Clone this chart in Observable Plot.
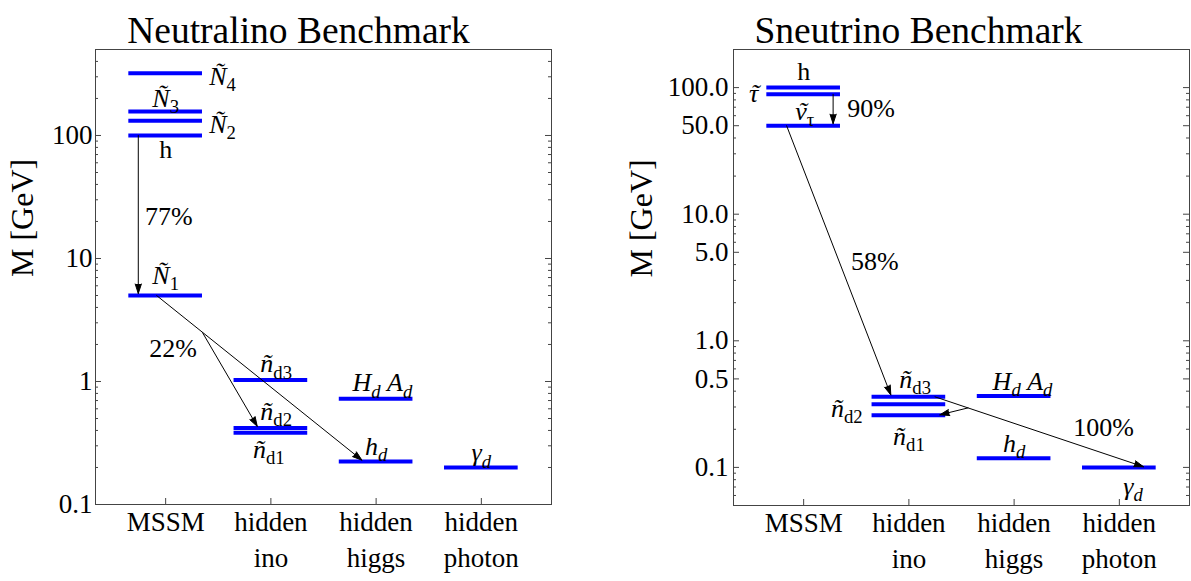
<!DOCTYPE html>
<html><head><meta charset="utf-8">
<script src="https://cdn.jsdelivr.net/npm/d3@7"></script>
<script src="https://cdn.jsdelivr.net/npm/@observablehq/plot@0.6"></script>
<style>
body{margin:0;background:#fff}
#wrap{display:flex;width:1191px;height:581px}
#wrap svg, #wrap svg text, #wrap svg tspan{font-family:"Liberation Serif","Times New Roman",serif !important}
</style>
</head><body><div id="wrap"></div>
<script>
// ---------- shared ----------
const categories = ["MSSM", "hidden\nino", "hidden\nhiggs", "hidden\nphoton"];
const categoryPos = [1, 2, 3, 4];

// ---------- Neutralino benchmark ----------
const nTitle = "Neutralino Benchmark";
const nYTicks = [0.1, 1, 10, 100];
const nYTickLabels = ["0.1", "1", "10", "100"];
const nMinor = [0.2,0.3,0.4,0.5,0.6,0.7,0.8,0.9, 2,3,4,5,6,7,8,9, 20,30,40,50,60,70,80,90, 200,300,400];
const nLevelCat  = [1, 1, 1, 1, 1, 2, 2, 2, 3, 3, 4];
const nLevelMass = [320, 157, 132, 100, 5.0, 1.03, 0.418, 0.383, 0.723, 0.224, 0.2];
const nLabelText = ["*Ñ*_{4}", "*Ñ*_{3}", "*Ñ*_{2}", "h", "*Ñ*_{1}", "*ñ*_{d3}", "*ñ*_{d2}", "*ñ*_{d1}", "*H*_{*d*} *A*_{*d*}", "*h*_{*d*}", "*γ*_{*d*}"];
const nLabelX = [1.54, 1.0, 1.54, 1.0, 1.0, 2.05, 2.05, 1.98, 3.06, 3.0, 4.0];
const nLabelY = [302, 201, 122, 76, 7.3, 1.385, 0.57, 0.278, 0.97, 0.296, 0.262];
const nPctText = ["77%", "22%"];
const nPctX = [1.03, 1.07];
const nPctY = [22, 1.85];
const nArrowX1 = [0.74, 0.914, 1.35];
const nArrowY1 = [100, 5, 2.5];
const nArrowX2 = [0.74, 2.88, 1.88];
const nArrowY2 = [5, 0.224, 0.418];

// ---------- Sneutrino benchmark ----------
const sTitle = "Sneutrino Benchmark";
const sYTicks = [0.1, 0.5, 1, 5, 10, 50, 100];
const sYTickLabels = ["0.1", "0.5", "1.0", "5.0", "10.0", "50.0", "100.0"];
const sMinor = [0.06,0.07,0.08,0.09, 0.2,0.3,0.4,0.6,0.7,0.8,0.9, 2,3,4,6,7,8,9, 20,30,40,60,70,80,90];
const sLevelCat  = [1, 1, 1, 2, 2, 2, 3, 3, 4];
const sLevelMass = [100, 88.5, 50, 0.361, 0.315, 0.258, 0.366, 0.118, 0.1];
const sLabelText = ["h", "*τ~*", "*ν~*_{τ}", "*ñ*_{d3}", "*ñ*_{d2}", "*ñ*_{d1}", "*H*_{*d*} *A*_{*d*}", "*h*_{*d*}", "*γ*_{*d*}"];
const sLabelX = [1.0, 0.53, 1.01, 2.06, 1.41, 2.0, 3.08, 3.0, 4.13];
const sLabelY = [133, 89.7, 65, 0.496, 0.293, 0.175, 0.475, 0.155, 0.0705];
const sPctText = ["90%", "58%", "100%"];
const sPctX = [1.64, 1.676, 3.85];
const sPctY = [68, 4.2, 0.207];
const sArrowX1 = [1.28, 0.838, 2.248, 2.562];
const sArrowY1 = [88.5, 50, 0.361, 0.295];
const sArrowX2 = [1.28, 1.835, 4.248, 2.276];
const sArrowY2 = [50, 0.361, 0.1, 0.258];

const FONT = "Liberation Serif";
const LABEL_FS = 26;
const NS = "http://www.w3.org/2000/svg";

function panel(o) {
  const H = 581, marginTop = 49;
  const fw = o.width - o.marginLeft - o.marginRight;
  const fh = H - marginTop - o.marginBottom;
  const levels = o.levelCat.map((c, i) => ({c, m: o.levelMass[i]}));
  const labels = o.labelText.map((t, i) => ({t, x: o.labelX[i], y: o.labelY[i]}));
  const pcts = o.pctText.map((t, i) => ({t, x: o.pctX[i], y: o.pctY[i]}));
  const arrows = o.ax1.map((x1, i) => ({x1, y1: o.ay1[i], x2: o.ax2[i], y2: o.ay2[i]}));
  const ticks = o.yTicks.map((v, i) => ({v, s: o.yTickLabels[i]}));
  return Plot.plot({
    width: o.width, height: H, marginTop, marginLeft: o.marginLeft, marginRight: o.marginRight, marginBottom: o.marginBottom,
    style: {background: "white", overflow: "visible", color: "black"},
    x: {domain: [1/3, 14/3], axis: null},
    y: {type: "log", domain: o.yDomain, axis: null},
    marks: [
      Plot.frame({stroke: "#444", strokeWidth: 1}),
      Plot.tickY(o.yTicks, {y: d => d, insetRight: fw - 6, stroke: "#444"}),
      Plot.tickY(o.yTicks, {y: d => d, insetLeft: fw - 6, stroke: "#444"}),
      Plot.tickY(o.minor, {y: d => d, insetRight: fw - 3, stroke: "#444"}),
      Plot.tickY(o.minor, {y: d => d, insetLeft: fw - 3, stroke: "#444"}),
      Plot.tickX(categoryPos, {x: d => d, insetTop: fh - 6, stroke: "#444"}),
      Plot.text(ticks, {y: "v", text: "s", frameAnchor: "left", textAnchor: "end", dx: -o.tickPad, fontSize: 27, fontFamily: FONT}),
      Plot.text(categoryPos, {x: d => d, text: d => categories[d - 1], frameAnchor: "bottom", lineAnchor: "top", dy: 2, lineHeight: 1.3, fontSize: 27, fontFamily: FONT}),
      Plot.text(["M [GeV]"], {text: d => d, frameAnchor: "left", rotate: -90, dx: o.ylabDx, fontSize: 32, fontFamily: FONT}),
      Plot.text([o.title], {text: d => d, frameAnchor: "top", dy: -33, dx: o.titleDx, fontSize: 37.5, fontFamily: FONT}),
      Plot.ruleY(levels, {y: "m", x1: d => d.c - 0.35, x2: d => d.c + 0.35, stroke: "#0000ff", strokeWidth: 4}),
      Plot.arrow(arrows, {x1: "x1", y1: "y1", x2: "x2", y2: "y2", stroke: "black", fill: "black", strokeWidth: 1, headLength: 15, headAngle: 36, insetEnd: 2}),
      Plot.text(labels, {x: "x", y: "y", text: "t", fontSize: LABEL_FS, fontFamily: FONT}),
      Plot.text(pcts, {x: "x", y: "y", text: "t", fontSize: LABEL_FS, fontFamily: FONT})
    ]
  });
}

// turn "*X*" (italic), "_{..}" (subscript) and "c~" (tilde over c) markup into tspans
function richText(svg) {
  svg.querySelectorAll("text").forEach(t => {
    if (t.children.length) return;
    const s = t.textContent;
    if (!/[*_~]/.test(s)) return;
    const fs = LABEL_FS;
    const runs = [];
    let it = false, sub = false, buf = "";
    const push = (extra) => { if (buf) runs.push(Object.assign({text: buf, it, sub}, extra || {})); buf = ""; };
    for (let i = 0; i < s.length; i++) {
      const ch = s[i];
      if (ch === "*") { push(); it = !it; }
      else if (ch === "_" && s[i + 1] === "{") { push(); sub = true; i++; }
      else if (ch === "}" && sub) { push(); sub = false; }
      else if (ch === "~") {
        const base = buf.slice(-1); buf = buf.slice(0, -1); push();
        buf = base; push({base: true});
        buf = "\u02DC"; push({tilde: true});
      }
      else buf += ch;
    }
    push();
    t.textContent = "";
    const shift = 0.24 * fs;
    let cur = false;
    const spans = runs.map(r => {
      const ts = document.createElementNS(NS, "tspan");
      ts.textContent = r.text;
      if (r.it) ts.setAttribute("font-style", "italic");
      if (r.sub) ts.setAttribute("font-size", (fs * 0.72).toFixed(1));
      if (r.sub && !cur) ts.setAttribute("dy", shift.toFixed(1));
      if (!r.sub && cur) ts.setAttribute("dy", (-shift).toFixed(1));
      cur = r.sub;
      t.appendChild(ts);
      return ts;
    });
    // position tildes over their base glyph (after layout)
    runs.forEach((r, i) => {
      if (!r.tilde) return;
      const wb = spans[i - 1].getComputedTextLength();
      const tw = spans[i].getComputedTextLength();
      const slant = 0.06 * fs;
      spans[i].setAttribute("dx", (-(wb + tw) / 2 + slant).toFixed(1));
      if (spans[i + 1]) spans[i + 1].setAttribute("dx", ((wb - tw) / 2 - slant).toFixed(1));
    });
  });
}

const wrap = document.getElementById("wrap");
const left = panel({
  width: 596, marginLeft: 95, marginRight: 45, marginBottom: 77,
  yDomain: [0.1, 500], yTicks: nYTicks, yTickLabels: nYTickLabels, minor: nMinor,
  levelCat: nLevelCat, levelMass: nLevelMass,
  labelText: nLabelText, labelX: nLabelX, labelY: nLabelY,
  pctText: nPctText, pctX: nPctX, pctY: nPctY,
  ax1: nArrowX1, ay1: nArrowY1, ax2: nArrowX2, ay2: nArrowY2,
  title: nTitle, titleDx: -25, ylabDx: -73, tickPad: 3
});
const right = panel({
  width: 595, marginLeft: 137, marginRight: 2, marginBottom: 76,
  yDomain: [0.05, 200], yTicks: sYTicks, yTickLabels: sYTickLabels, minor: sMinor,
  levelCat: sLevelCat, levelMass: sLevelMass,
  labelText: sLabelText, labelX: sLabelX, labelY: sLabelY,
  pctText: sPctText, pctX: sPctX, pctY: sPctY,
  ax1: sArrowX1, ay1: sArrowY1, ax2: sArrowX2, ay2: sArrowY2,
  title: sTitle, titleDx: -43, ylabDx: -92, tickPad: 5
});
wrap.appendChild(left);
wrap.appendChild(right);
richText(left);
richText(right);
</script>
</body></html>
